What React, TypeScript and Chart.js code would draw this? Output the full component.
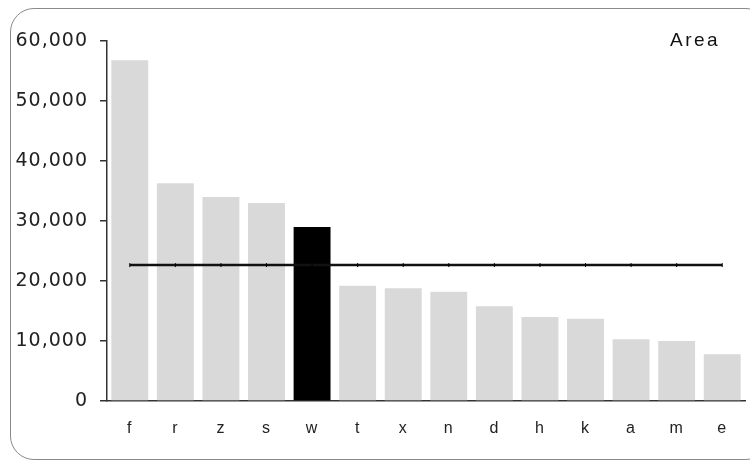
import React, { useEffect, useRef } from "react";
import { Chart, registerables } from "chart.js";

Chart.register(...registerables);

const categories = ["f", "r", "z", "s", "w", "t", "x", "n", "d", "h", "k", "a", "m", "e"];
const areaValues = [56800, 36300, 34000, 33000, 29000, 19200, 18800, 18200, 15800, 14000, 13700, 10300, 10000, 7800];
const averageValues = [22650, 22650, 22650, 22650, 22650, 22650, 22650, 22650, 22650, 22650, 22650, 22650, 22650, 22650];
const highlighted = "w";
const yTicks = [0, 10000, 20000, 30000, 40000, 50000, 60000];
const legendLabel = "Area";

const spacingPlugin = {
  id: "letterSpacing",
  beforeUpdate(chart: any) {
    chart.ctx.letterSpacing = "1px";
  },
  beforeDraw(chart: any) {
    chart.ctx.letterSpacing = "1px";
  },
};

export default function App() {
  const ref = useRef<HTMLCanvasElement | null>(null);

  useEffect(() => {
    if (!ref.current) return;
    const chart = new Chart(ref.current, {
      type: "bar",
      data: {
        labels: categories,
        datasets: [
          {
            type: "line",
            label: "Average",
            data: averageValues,
            borderColor: "#111111",
            backgroundColor: "#111111",
            borderWidth: 2.5,
            pointStyle: "line",
            rotation: 90,
            pointRadius: 2,
            pointBorderWidth: 1,
            pointBorderColor: "#000000",
            order: 0,
          } as any,
          {
            type: "bar",
            label: legendLabel,
            data: areaValues,
            backgroundColor: categories.map((c) => (c === highlighted ? "#000000" : "#d9d9d9")),
            borderWidth: 0,
            categoryPercentage: 1,
            barPercentage: 0.81,
            order: 1,
          } as any,
        ],
      },
      options: {
        responsive: false,
        animation: false,
        layout: { padding: { left: 0, right: 3, top: 41, bottom: 21 } },
        plugins: {
          legend: { display: false },
          tooltip: { enabled: false },
        },
        scales: {
          x: {
            offset: true,
            grid: { display: false, drawTicks: false },
            border: { display: true, color: "#333333", width: 1.5 },
            ticks: {
              color: "#222222",
              font: { family: "'Liberation Sans', Arial, sans-serif", size: 16 },
              padding: 18,
            },
            afterFit: (s: any) => {
              s.height = 40;
            },
          },
          y: {
            min: 0,
            max: 60000,
            afterBuildTicks: (s: any) => {
              s.ticks = yTicks.map((v) => ({ value: v }));
            },
            grid: {
              drawOnChartArea: false,
              drawTicks: true,
              tickLength: 7,
              color: "#333333",
              lineWidth: 1.5,
            },
            border: { display: true, color: "#333333", width: 1.5 },
            ticks: {
              color: "#222222",
              font: { family: "'DejaVu Sans', sans-serif", size: 19 },
              padding: 12,
              callback: (v: any) => Number(v).toLocaleString("en-US"),
            },
            afterFit: (s: any) => {
              s.width = 107;
            },
          },
        },
      },
      plugins: [spacingPlugin],
    });
    return () => chart.destroy();
  }, []);

  return (
    <div
      style={{
        position: "fixed",
        left: 0,
        top: 0,
        width: 750,
        height: 462,
        overflow: "hidden",
        background: "#ffffff",
      }}
    >
      <div
        style={{
          position: "absolute",
          left: 10,
          top: 8,
          width: 760,
          height: 452,
          border: "1.5px solid #8a8a8a",
          borderRadius: 24,
          boxSizing: "border-box",
        }}
      />
      <canvas
        ref={ref}
        width={750}
        height={462}
        style={{ position: "absolute", left: 0, top: 0, width: 750, height: 462, display: "block" }}
      />
      <div
        style={{
          position: "absolute",
          left: 670,
          top: 30,
          fontFamily: "'Liberation Sans', Arial, sans-serif",
          fontSize: 19,
          lineHeight: "19px",
          letterSpacing: "2.5px",
          color: "#111111",
        }}
      >
        {legendLabel}
      </div>
    </div>
  );
}
